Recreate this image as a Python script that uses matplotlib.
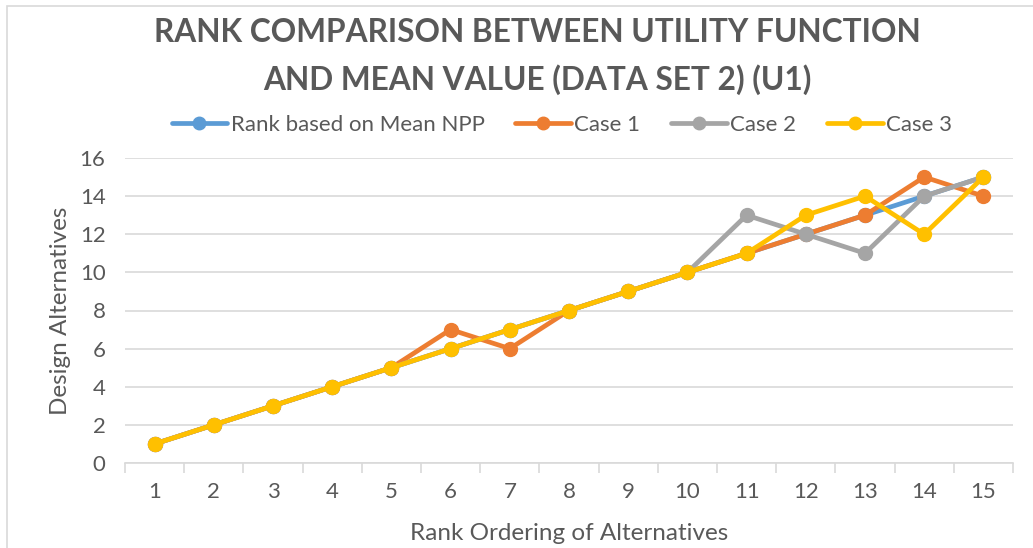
import numpy as np
import matplotlib.pyplot as plt
from matplotlib.patches import Rectangle

plt.rcParams['font.family'] = ['Lato', 'DejaVu Sans']

ranks = list(range(1, 16))
mean_npp = [1, 2, 3, 4, 5, 6, 7, 8, 9, 10, 11, 12, 13, 14, 15]
case1 = [1, 2, 3, 4, 5, 7, 6, 8, 9, 10, 11, 12, 13, 15, 14]
case2 = [1, 2, 3, 4, 5, 6, 7, 8, 9, 10, 13, 12, 11, 14, 15]
case3 = [1, 2, 3, 4, 5, 6, 7, 8, 9, 10, 11, 13, 14, 12, 15]

series = [
    ('Rank based on Mean NPP', mean_npp, '#5B9BD5'),
    ('Case 1', case1, '#ED7D31'),
    ('Case 2', case2, '#A5A5A5'),
    ('Case 3', case3, '#FFC000'),
]

title_lines = ['RANK COMPARISON BETWEEN UTILITY FUNCTION',
               'AND MEAN VALUE (DATA SET 2) (U1)']

txt = '#595959'
grid = '#D9D9D9'

fig = plt.figure(figsize=(10.33, 5.48), dpi=100)
# chart border
fig.patches.append(Rectangle((7 / 1033, -0.1), 1.2, 1 - 6 / 548 + 0.1,
                             transform=fig.transFigure, fill=False,
                             edgecolor=grid, linewidth=1.2))

ax = fig.add_axes([125 / 1033, 1 - 463 / 548, 888 / 1033, 305 / 548])

for name, vals, col in series:
    ax.plot(ranks, vals, color=col, linewidth=3.4, marker='o',
            markersize=10, label=name, solid_capstyle='round')

ax.set_xlim(0.5, 15.5)
ax.set_ylim(0, 16)
ax.set_yticks(np.arange(0, 17, 2))
ax.set_xticks(ranks)
ax.set_xticks(np.arange(0.5, 16, 1), minor=True)
ax.tick_params(axis='x', which='major', length=0, pad=14, labelsize=16, labelcolor=txt)
ax.tick_params(axis='x', which='minor', length=7, width=1.2, color=grid)
ax.tick_params(axis='y', length=0, pad=14, labelsize=16, labelcolor=txt)

ax.grid(axis='y', color=grid, linewidth=1.2)
ax.set_axisbelow(True)
for s in ['top', 'right', 'left']:
    ax.spines[s].set_visible(False)
ax.spines['bottom'].set_color(grid)
ax.spines['bottom'].set_linewidth(1.2)

ax.set_xlabel('Rank Ordering of Alternatives', fontsize=17.5, color=txt, labelpad=15)
ax.set_ylabel('Design Alternatives', fontsize=17.5, color=txt, labelpad=6)

for yy, line in zip([33, 80], title_lines):
    fig.text(537 / 1033, 1 - yy / 548, line, ha='center', va='center',
             fontsize=22.8, fontweight='bold', color=txt)

leg = ax.legend(loc='center', bbox_to_anchor=(562 / 1033, 1 - 125 / 548),
                bbox_transform=fig.transFigure,
                ncol=4, frameon=False, fontsize=16, handlelength=2.5,
                handletextpad=0.15, columnspacing=1.4, labelcolor=txt, markerscale=0.9)

fig.savefig('out.png', dpi=100)
